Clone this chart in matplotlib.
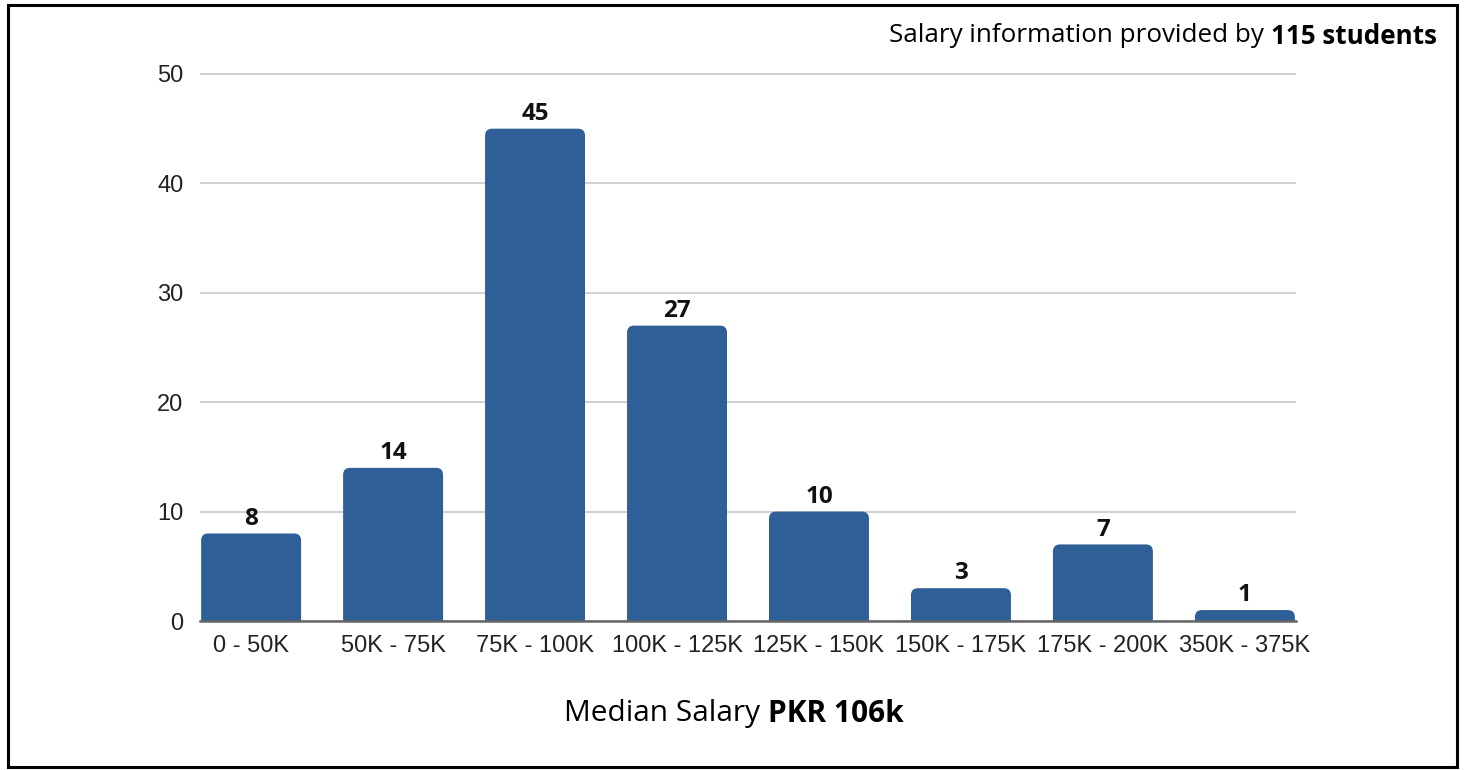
import matplotlib.pyplot as plt
from matplotlib.path import Path
from matplotlib.patches import PathPatch, Rectangle

ranges = ['0 - 50K', '50K - 75K', '75K - 100K', '100K - 125K',
          '125K - 150K', '150K - 175K', '175K - 200K', '350K - 375K']
students = [8, 14, 45, 27, 10, 3, 7, 1]
y_ticks = [0, 10, 20, 30, 40, 50]
total_students = 115
median_salary = 'PKR 106k'

bar_color = '#2F5F97'
label_font = ['Open Sans', 'DejaVu Sans']
tick_font = ['Liberation Sans', 'DejaVu Sans']

fig = plt.figure(figsize=(14.66, 7.7), dpi=100)
ax = fig.add_axes([200 / 1466, 149 / 770, 1096 / 1466, 549.2 / 770])
ax.set_xlim(-0.36, len(ranges) - 1 + 0.36)
ax.set_ylim(0, 50.2)

bars = ax.bar(range(len(ranges)), students, width=0.704, color=bar_color)

# swap the plain rectangles for ones with rounded top corners
x_per_px = (ax.get_xlim()[1] - ax.get_xlim()[0]) / 1096
y_per_px = (ax.get_ylim()[1] - ax.get_ylim()[0]) / 549.2
r = 7
rx, ry = r * x_per_px, r * y_per_px
for rect in bars:
    rect.set_visible(False)
    x0 = rect.get_x()
    x1 = x0 + rect.get_width()
    h = rect.get_height()
    verts = [(x0, 0), (x0, h - ry), (x0, h), (x0 + rx, h),
             (x1 - rx, h), (x1, h), (x1, h - ry), (x1, 0), (x0, 0)]
    codes = [Path.MOVETO, Path.LINETO, Path.CURVE3, Path.CURVE3,
             Path.LINETO, Path.CURVE3, Path.CURVE3, Path.LINETO, Path.CLOSEPOLY]
    ax.add_patch(PathPatch(Path(verts, codes), facecolor=bar_color,
                           edgecolor='none', zorder=3))

for i, v in enumerate(students):
    ax.annotate(str(v), (i, v), xytext=(0, 2), textcoords='offset points',
                ha='center', va='bottom', fontsize=17.5, fontweight='bold',
                family=label_font, color='#111111')

ax.set_yticks(y_ticks)
ax.set_xticks(range(len(ranges)))
ax.set_xticklabels(ranges)
ax.tick_params(axis='both', length=0, labelsize=17, colors='#222222')
ax.tick_params(axis='y', pad=12)
ax.tick_params(axis='x', pad=10)
for lbl in ax.get_xticklabels() + ax.get_yticklabels():
    lbl.set_family(tick_font)

ax.grid(axis='y', color='#C4C4C4', linewidth=1.1, zorder=0)
ax.set_axisbelow(True)
for side in ['top', 'right', 'left']:
    ax.spines[side].set_visible(False)
ax.spines['bottom'].set_color('#666666')
ax.spines['bottom'].set_linewidth(1.8)
ax.spines['bottom'].set_zorder(4)

# header, regular text followed by bold count
bold = fig.text(1437 / 1466, 1 - 36 / 770, f'{total_students} students',
                ha='right', va='center', fontsize=18.7, fontweight='bold',
                family=label_font)
fig.text(0, 0, 'Salary information provided by ', fontsize=18.7,
         family=label_font, ha='right', va='center')
renderer = fig.canvas.get_renderer()
bb = bold.get_window_extent(renderer)
fig.texts[-1].set_position((bb.x0 / 1466, 1 - 36 / 770))

# footer, centred as one line
plain = fig.text(0, 1 - 714 / 770, 'Median Salary ', fontsize=21.5,
                 family=label_font, ha='left', va='center')
strong = fig.text(0, 1 - 714 / 770, median_salary, fontsize=21.5,
                  fontweight='bold', family=label_font, ha='left', va='center')
w1 = plain.get_window_extent(renderer).width
w2 = strong.get_window_extent(renderer).width
start = 734 - (w1 + w2) / 2
plain.set_x(start / 1466)
strong.set_x((start + w1) / 1466)

fig.patches.append(Rectangle((8 / 1466, 3 / 770), 1449 / 1466, 762 / 770,
                             transform=fig.transFigure, fill=False,
                             edgecolor='black', linewidth=2.2))

fig.savefig('out.png', dpi=100)
